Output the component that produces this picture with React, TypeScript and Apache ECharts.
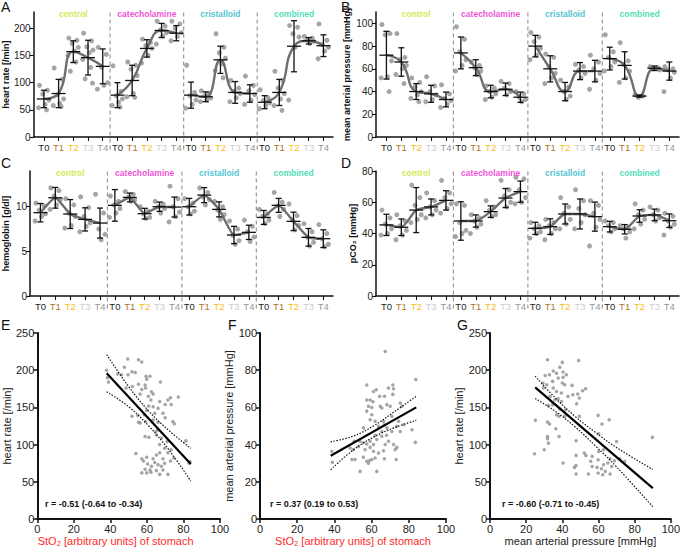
import React, { useEffect, useRef } from 'react';
import * as echarts from 'echarts';

const FONT = 'Liberation Sans, Arial, Helvetica, sans-serif';

const GROUPS = ['control', 'catecholamine', 'cristalloid', 'combined'];
const GROUP_COLORS = ['#c4e41c', '#ec1ccc', '#22b4c8', '#22d4a6'];
const TIMES = ['T0', 'T1', 'T2', 'T3', 'T4'];
const TIME_COLORS = ['#1e1e1e', '#b0752a', '#f4c01a', '#cdcdcd', '#979797'];
const SEPARATORS = [4.5, 9.5, 14.5];
const CAT_IDX = Array.from({ length: 20 }, (_, k) => k);
const JITTER = [-0.3, 0.24, -0.08, 0.34, 0.08, -0.36, 0.18, -0.2, 0.3];

// Panel A: heart rate
const HR_TICKS = [0, 50, 100, 150, 200];
const HR_MEAN = [70, 80, 157, 146, 130, 77, 104, 163, 196, 191, 77, 74, 142, 82, 80, 64, 82, 167, 177, 168];
const HR_ERR = [16, 26, 20, 32, 32, 23, 28, 16, 13, 14, 24, 9, 25, 20, 16, 12, 24, 47, 6, 20];
const HR_DOTS = [
  [95, 86, 79, 68, 60, 54, 50],
  [127, 106, 78, 70, 62, 58, 56],
  [182, 178, 172, 165, 158, 150, 138, 121],
  [191, 177, 166, 160, 155, 143, 128, 107, 99],
  [165, 152, 128, 100, 95, 88],
  [131, 84, 76, 70, 64, 58, 55],
  [138, 132, 125, 113, 80, 74, 73],
  [180, 174, 168, 163, 150, 136],
  [213, 204, 197, 192, 186, 171],
  [213, 208, 200, 192, 185, 177],
  [132, 82, 76, 68, 60, 53],
  [85, 80, 76, 72, 68, 65],
  [190, 165, 155, 145, 135, 122, 109],
  [104, 90, 84, 80, 72, 65],
  [112, 95, 85, 78, 68, 60],
  [87, 72, 67, 63, 58, 52],
  [121, 104, 90, 80, 70, 58, 49],
  [205, 202, 190, 184, 165, 68],
  [185, 182, 178, 176, 172],
  [208, 178, 170, 165, 158, 144],
];

// Panel B: mean arterial pressure
const MAP_TICKS = [0, 20, 40, 60, 80, 100];
const MAP_MEAN = [72, 66, 40, 38, 33, 74, 61, 40, 42, 35, 80, 60, 40, 58, 58, 69, 63, 36, 60.5, 58];
const MAP_ERR = [21, 12.5, 7, 7.5, 6.5, 14, 7, 5.5, 5.5, 4.5, 9.5, 11.5, 8, 7.5, 9.5, 10, 12, 1, 2, 8];
const MAP_DOTS = [
  [99, 91, 90, 67, 53, 52, 40],
  [91, 70, 68, 63, 60, 55, 47],
  [52, 48, 44, 40, 37, 34, 31],
  [53, 45, 40, 37, 33, 31],
  [46, 38, 34, 32, 29, 26],
  [97, 86, 75, 68, 63, 58],
  [66, 63, 61, 58, 55],
  [45, 43, 40, 38, 35, 33],
  [49, 47, 43, 40, 37],
  [40, 38, 35, 33, 31],
  [92, 88, 84, 78, 72, 68],
  [73, 70, 62, 56, 52, 47],
  [50, 44, 40, 36, 33],
  [64, 62, 59, 56, 52],
  [72, 66, 60, 56, 50, 42],
  [90, 75, 70, 66, 62, 58],
  [83, 67, 64, 58, 52, 48],
  [37, 36, 35],
  [62, 61, 60, 59],
  [62, 60, 59, 57, 52, 40],
];

// Panel C: hemoglobin
const HB_TICKS = [0, 5, 10];
const HB_MEAN = [9.33, 11.0, 9.18, 8.58, 8.17, 10.15, 11.04, 9.22, 10.0, 9.96, 10.0, 11.3, 9.7, 6.83, 7.13, 8.8, 10.15, 8.36, 6.57, 6.42];
const HB_ERR = [1.03, 1.16, 1.62, 1.3, 1.68, 1.77, 0.49, 0.6, 0.52, 1.12, 0.93, 0.84, 0.84, 0.97, 0.8, 0.78, 0.78, 1.03, 0.99, 0.99];
const HB_DOTS = [
  [10.4, 10.1, 9.6, 9.2, 8.9, 8.4],
  [12.1, 11.8, 11.2, 10.8, 10.2, 9.7],
  [10.9, 10.2, 9.3, 8.9, 7.9, 7.6],
  [11.1, 9.9, 8.9, 8.2, 7.8, 7.2],
  [11.4, 9.3, 7.5, 6.9, 6.3],
  [11.2, 10.6, 10.2, 9.8, 9.3, 8.8],
  [11.7, 11.4, 11.1, 10.8, 10.6],
  [10.0, 9.5, 9.2, 8.8, 8.7],
  [10.6, 10.3, 10.0, 9.8, 9.3],
  [12.3, 10.9, 10.0, 9.4, 8.9, 8.3],
  [10.9, 10.4, 10.0, 9.5, 9.2],
  [12.1, 11.6, 11.1, 10.8, 10.2],
  [10.6, 10.0, 9.6, 9.1, 8.6],
  [8.4, 7.5, 6.8, 6.2, 5.8],
  [8.5, 7.8, 7.2, 6.6, 6.1],
  [9.7, 9.2, 8.9, 8.5, 8.1],
  [11.6, 10.5, 10.1, 9.7, 8.9],
  [10.3, 9.0, 8.5, 7.9, 7.4],
  [8.1, 7.2, 6.6, 6.0, 5.6],
  [8.0, 7.0, 6.4, 5.8, 5.5],
];

// Panel D: pCO2
const PCO2_TICKS = [0, 20, 40, 60, 80];
const PCO2_MEAN = [45.5, 44, 55, 57, 61.2, 48, 48, 54, 62.7, 66.8, 43.3, 44.4, 52.5, 52.5, 50.8, 44.4, 42.7, 51.2, 51.9, 48.2];
const PCO2_ERR = [6.8, 5.3, 14.4, 5.1, 6.2, 12.3, 3.9, 3.7, 6.1, 6.8, 3.9, 5, 6.4, 9.6, 9.3, 3.4, 3, 4, 3.7, 4.3];
const PCO2_DOTS = [
  [55, 50, 46, 43, 40, 39],
  [52, 48, 45, 42, 39, 36],
  [71, 63, 58, 52, 49, 47],
  [66, 61, 57, 55, 52, 50],
  [74, 66, 63, 59, 56, 53],
  [59, 58, 47, 42, 40, 38],
  [52, 50, 48, 46, 44, 40],
  [61, 57, 55, 52, 51],
  [74, 68, 64, 60, 57],
  [76, 75, 68, 63, 60, 59],
  [47, 45, 43, 41, 40, 37],
  [49, 47, 45, 43, 40, 36],
  [63, 57, 53, 49, 46, 43],
  [68, 61, 56, 52, 47, 43],
  [61, 58, 53, 49, 44, 32],
  [48, 47, 45, 43, 41],
  [45, 44, 43, 41, 37],
  [59, 55, 52, 49, 46, 43],
  [57, 55, 52, 50, 48],
  [53, 51, 48, 46, 44, 39],
];

// Panel E: StO2 vs heart rate
const E_POINTS = [
  [37.9, 200], [38.4, 190], [39, 184], [49.5, 215], [55.4, 214], [57.2, 211], [47.7, 204], [51.8, 198], [49.7, 194], [46.1, 194],
  [53.6, 197], [48.6, 176], [59.5, 192], [61.7, 192], [59.9, 188], [55.4, 181], [59, 180], [67.4, 184], [57.2, 174], [59.3, 176],
  [62.5, 171], [56.3, 168], [60.8, 165], [63.4, 168], [62.2, 160], [72.9, 163], [71.5, 160], [77.2, 164], [67, 158], [70, 154],
  [73.3, 154], [63.4, 151], [66.1, 149], [51.8, 138], [55, 139], [58.6, 140], [59.9, 146], [64.3, 142], [68.8, 142], [56.3, 129],
  [59.3, 131], [63.4, 133], [66.1, 130], [74.2, 131], [75, 128], [66.1, 120], [65.2, 113], [59, 111], [61.1, 110], [67.9, 109],
  [71.1, 104], [81.3, 105], [67, 100], [69.7, 95], [73.3, 93], [71.5, 89], [54, 88], [57.2, 81], [59.9, 83], [63.4, 81],
  [65.2, 86], [67, 89], [68.8, 81], [58.1, 78], [60.4, 74], [64.3, 76], [66.1, 73], [69.7, 75], [72.9, 78], [74.7, 82],
  [62.5, 71], [67.9, 71], [59, 67], [61.7, 66], [65.2, 65], [68.8, 66], [57.2, 62], [59.9, 62], [62.2, 63], [67, 60],
  [71.5, 60], [83.6, 77], [83.1, 75], [55.4, 130], [44, 195], [52, 178], [65, 118], [61, 152], [70, 136],
];
const E_FIT = [[38, 196], [84, 74]];
const E_UPPER = [[38, 221], [50, 178], [61, 145], [72, 119], [84, 95]];
const E_LOWER = [[38, 171], [50, 151], [61, 125], [72, 93], [84, 51]];

// Panel F: StO2 vs mean arterial pressure
const F_POINTS = [
  [67.3, 90], [83.8, 75], [57.4, 72], [61, 68.6], [62.5, 69.5], [69.1, 70.4], [71.4, 72], [71.8, 70], [71.4, 67], [66.9, 66],
  [64.3, 66], [57.4, 64], [59.2, 64], [60.7, 63], [58.3, 60.6], [60.1, 60], [64.6, 60.6], [65.5, 59.7], [68.2, 61.5], [70, 60.6],
  [75.4, 62.4], [76.3, 60.6], [57.4, 58], [60.1, 56], [59.2, 53.4], [66.4, 52.5], [66.8, 50.7], [70.9, 55.2], [74.5, 52.5], [77.2, 50.7],
  [81.7, 48], [55.6, 49], [61.9, 52.5], [63.7, 49.8], [65.5, 47], [68.2, 49], [70.9, 47], [73.6, 49.8], [75.4, 47], [50.6, 41.8],
  [53.8, 41.8], [55.6, 41], [57.4, 40.3], [59.2, 41.8], [61, 40], [62.8, 42.7], [65.5, 44.5], [67.3, 40], [69.1, 41.8], [71.8, 40],
  [73.6, 38.5], [48.5, 38.2], [50.2, 37.3], [52.9, 39], [56.5, 37.3], [59.2, 38.5], [61, 36.4], [63.7, 35.5], [66.4, 36.7], [72.7, 37.3],
  [49.4, 32], [51.1, 32], [55.6, 33.2], [57.4, 31], [58.9, 31.4], [60.1, 32], [61.9, 32.8], [66.9, 32.4], [73.2, 32], [58.3, 30],
  [53.8, 25.6], [62.8, 25.6], [38.6, 36.4], [38.9, 30.5], [83.5, 41.2], [62, 45], [68, 45],
];
const F_FIT = [[38, 34], [84, 60]];
const F_UPPER = [[38, 41.5], [50, 44.5], [61, 50], [72, 57.5], [84, 66]];
const F_LOWER = [[38, 26.5], [50, 37], [61, 44], [72, 49], [84, 53]];

// Panel G: mean arterial pressure vs heart rate
const G_POINTS = [
  [31.8, 214], [40, 210.5], [49, 213], [38.6, 204], [35, 199], [30.5, 193], [32.9, 194], [36.8, 196], [40.4, 197.5], [42.2, 194],
  [37.7, 189.5], [40.4, 190.4], [29.3, 182.7], [31.4, 180.5], [34.6, 185], [40, 182.7], [41.3, 180.5], [45.4, 179.6], [51.2, 172.4], [52.9, 175],
  [29.6, 176], [35, 176], [36.8, 171.5], [39.5, 169.3], [43.1, 164.8], [45.8, 167], [48.5, 168], [49.4, 162.6], [33.2, 164.8], [35.9, 160.3],
  [37.7, 161.7], [39.5, 158], [47.9, 155], [32.3, 152.7], [34.6, 153.6], [38.6, 148], [41.8, 147], [36.8, 140], [38.2, 138], [41.3, 138],
  [49.4, 138], [59.8, 139.3], [65.9, 133.5], [25.1, 132.6], [31.8, 130.3], [32.9, 127.6], [61.9, 127.6], [36.4, 121.4], [31.8, 111], [31.8, 108],
  [38.2, 111], [32.3, 102], [30, 93], [24.6, 87.8], [47.6, 105.2], [60.1, 114.6], [70, 104.3], [89.8, 109.7], [52.1, 88.7], [53, 85.5],
  [47.6, 85.5], [56.5, 84.2], [60.1, 90.9], [62.8, 93], [66.4, 81], [68.8, 78.4], [71.8, 81], [74.5, 77.5], [40.4, 75.2], [47.6, 72],
  [55.7, 77.5], [59.8, 79.7], [62.8, 73], [65.2, 75.2], [56.5, 70.7], [59.2, 69.4], [61.6, 67.6], [67.3, 70.7], [63.7, 64], [46.7, 69.4],
  [47.6, 60.4], [54.4, 60.4], [59.8, 61.8], [66.4, 60.4], [62.3, 59.5],
];
const G_FIT = [[25, 177], [90, 41.5]];
const G_UPPER = [[25, 192], [36, 163], [47, 138], [58, 117], [70, 96], [90, 66.5]];
const G_LOWER = [[25, 162], [36, 145], [47, 124], [58, 99], [70, 70], [90, 16.5]];

const TIME_PANELS = [
  { left: 30, top: 12, max: 230, ticks: HR_TICKS, name: 'heart rate [/min]', nameGap: 20, mean: HR_MEAN, err: HR_ERR, dots: HR_DOTS, smooth: 0.5 },
  { left: 376, top: 12, max: 110, ticks: MAP_TICKS, name: 'mean arterial pressure [mmHg]', nameGap: 25, mean: MAP_MEAN, err: MAP_ERR, dots: MAP_DOTS, smooth: 0.5 },
  { left: 30, top: 171, max: 14, ticks: HB_TICKS, name: 'hemoglobin [g/dl]', nameGap: 20, mean: HB_MEAN, err: HB_ERR, dots: HB_DOTS, smooth: 0.15 },
  { left: 376, top: 171, max: 80, ticks: PCO2_TICKS, name: 'pCO₂ [mmHg]', nameGap: 18, mean: PCO2_MEAN, err: PCO2_ERR, dots: PCO2_DOTS, smooth: 0.2 },
];

const SCATTER_PANELS = [
  { left: 33, width: 187, yMax: 250, yInt: 50, yName: 'heart rate [/min]', xName: 'StO₂ [arbitrary units] of stomach', xColor: '#ff2a2a', xPad: [0, 26, 0, 0], points: E_POINTS, fit: E_FIT, upper: E_UPPER, lower: E_LOWER, r: 'r = -0.51 (-0.64 to -0.34)', rx: 45 },
  { left: 260, width: 186, yMax: 100, yInt: 20, yName: 'mean arterial pressure [mmHg]', xName: 'StO₂ [arbitrary units] of stomach', xColor: '#ff2a2a', xPad: [0, 0, 0, 0], points: F_POINTS, fit: F_FIT, upper: F_UPPER, lower: F_LOWER, r: 'r = 0.37 (0.19 to 0.53)', rx: 270 },
  { left: 490, width: 186, yMax: 250, yInt: 50, yName: 'heart rate [/min]', xName: 'mean arterial pressure [mmHg]', xColor: '#222222', xPad: [0, 0, 0, 0], points: G_POINTS, fit: G_FIT, upper: G_UPPER, lower: G_LOWER, r: 'r = -0.60 (-0.71 to -0.45)', rx: 502 },
];

const LETTERS = [
  ['A', 1, 0], ['B', 341, 0], ['C', 1, 156], ['D', 341, 156], ['E', 1, 318], ['F', 228, 318], ['G', 457, 318],
];

function renderErr(params: any, api: any) {
  const x = api.value(0);
  const m = api.value(1);
  const e = api.value(2);
  const pm = api.coord([x, m]);
  const ph = api.coord([x, m + e]);
  const pl = api.coord([x, m - e]);
  const st = { stroke: '#111111', lineWidth: 1.3 };
  return {
    type: 'group',
    children: [
      { type: 'line', shape: { x1: pm[0], y1: ph[1], x2: pm[0], y2: pl[1] }, style: st },
      { type: 'line', shape: { x1: pm[0] - 3, y1: ph[1], x2: pm[0] + 3, y2: ph[1] }, style: st },
      { type: 'line', shape: { x1: pm[0] - 3, y1: pl[1], x2: pm[0] + 3, y2: pl[1] }, style: st },
      { type: 'line', shape: { x1: pm[0] - 7, y1: pm[1], x2: pm[0] + 7, y2: pm[1] }, style: st },
    ],
  };
}

function buildOption() {
  const grid: any[] = [];
  const xAxis: any[] = [];
  const yAxis: any[] = [];
  const series: any[] = [];
  const graphic: any[] = [];

  const rich: any = {};
  TIMES.forEach((t, i) => {
    rich['t' + i] = { color: TIME_COLORS[i], fontSize: 9.5, fontFamily: FONT };
  });

  TIME_PANELS.forEach((p, i) => {
    grid.push({ left: p.left, top: p.top, width: 303, height: 125 });
    xAxis.push({
      type: 'value', gridIndex: i, min: -0.7, max: 19.65,
      axisLine: { show: true, onZero: false, lineStyle: { color: '#111', width: 1.5 } },
      axisTick: { show: true, customValues: CAT_IDX, length: 4, lineStyle: { color: '#111', width: 1.1 } },
      axisLabel: {
        customValues: CAT_IDX, margin: 5,
        formatter: (v: number) => { const k = Math.round(v) % 5; return `{t${k}|${TIMES[k]}}`; },
        rich,
      },
      splitLine: { show: false },
    });
    yAxis.push({
      type: 'value', gridIndex: i, min: 0, max: p.max,
      axisLine: { show: true, onZero: false, lineStyle: { color: '#111', width: 1.5 } },
      axisTick: { show: true, customValues: p.ticks, length: 4, lineStyle: { color: '#111', width: 1.1 } },
      axisLabel: { customValues: p.ticks, fontSize: 10, color: '#222', margin: 3, fontFamily: FONT },
      splitLine: { show: false },
      name: p.name, nameLocation: 'middle', nameGap: p.nameGap,
      nameTextStyle: { fontWeight: 'bold', fontSize: 9, color: '#111', fontFamily: FONT },
    });
    SEPARATORS.forEach((s) => {
      series.push({
        type: 'line', xAxisIndex: i, yAxisIndex: i, clip: false, silent: true, symbol: 'none', z: 1,
        data: [[s, -p.max * 0.1], [s, p.max]],
        lineStyle: { color: '#9a9a9a', width: 1.2, type: [4, 3] },
      });
    });
    const dots: number[][] = [];
    p.dots.forEach((vals, k) => vals.forEach((v, j) => dots.push([k + JITTER[j % JITTER.length], v])));
    series.push({
      type: 'scatter', xAxisIndex: i, yAxisIndex: i, data: dots, symbolSize: 5, silent: true, z: 2,
      itemStyle: { color: '#8e8e8e' },
    });
    GROUPS.forEach((g, gi) => {
      const d: number[][] = [];
      for (let t = 0; t < 5; t++) d.push([gi * 5 + t, p.mean[gi * 5 + t]]);
      series.push({
        type: 'line', xAxisIndex: i, yAxisIndex: i, data: d, smooth: p.smooth, symbol: 'none', silent: true, z: 3,
        lineStyle: { color: '#6e6e6e', width: 2.4 },
      });
    });
    series.push({
      type: 'custom', xAxisIndex: i, yAxisIndex: i, renderItem: renderErr, z: 4, silent: true,
      data: p.mean.map((m, k) => [k, m, p.err[k]]), encode: { x: 0, y: 1 },
    });
    series.push({
      type: 'scatter', xAxisIndex: i, yAxisIndex: i, symbolSize: 1, clip: false, silent: true, z: 5,
      itemStyle: { color: 'rgba(0,0,0,0)' },
      data: GROUPS.map((g, gi) => ({ value: [gi * 5 + 2, p.max], name: g, label: { color: GROUP_COLORS[gi] } })),
      label: { show: true, position: 'inside', formatter: '{b}', fontWeight: 'bold', fontSize: 8.5, fontFamily: FONT, offset: [0, 2] },
    });
  });

  SCATTER_PANELS.forEach((p, j) => {
    const i = TIME_PANELS.length + j;
    grid.push({ left: p.left, top: 333, width: p.width, height: 186 });
    xAxis.push({
      type: 'value', gridIndex: i, min: 0, max: 100, interval: 20,
      axisLine: { show: true, onZero: false, lineStyle: { color: '#111', width: 2 } },
      axisTick: { show: true, length: 4, lineStyle: { color: '#111', width: 1.5 } },
      axisLabel: { fontSize: 11, color: '#222', margin: 4, fontFamily: FONT },
      splitLine: { show: false },
      name: p.xName, nameLocation: 'middle', nameGap: 16,
      nameTextStyle: { fontSize: 11, color: p.xColor, fontFamily: FONT, padding: p.xPad },
    });
    yAxis.push({
      type: 'value', gridIndex: i, min: 0, max: p.yMax, interval: p.yInt,
      axisLine: { show: true, onZero: false, lineStyle: { color: '#111', width: 2 } },
      axisTick: { show: true, length: 4, lineStyle: { color: '#111', width: 1.5 } },
      axisLabel: { fontSize: 11, color: '#222', margin: 3, fontFamily: FONT },
      splitLine: { show: false },
      name: p.yName, nameLocation: 'middle', nameGap: 21,
      nameTextStyle: { fontSize: 11, color: '#222', fontFamily: FONT },
    });
    series.push({
      type: 'scatter', xAxisIndex: i, yAxisIndex: i, data: p.points, symbolSize: 3.5, silent: true, z: 2,
      itemStyle: { color: '#8e8e8e' },
    });
    series.push({
      type: 'line', xAxisIndex: i, yAxisIndex: i, data: p.fit, symbol: 'none', silent: true, z: 4,
      lineStyle: { color: '#000', width: 2.2 },
    });
    [p.upper, p.lower].forEach((band) => {
      series.push({
        type: 'line', xAxisIndex: i, yAxisIndex: i, data: band, symbol: 'none', smooth: 0.4, silent: true, z: 3,
        lineStyle: { color: '#111', width: 1.2, type: [1.5, 1.5] },
      });
    });
    graphic.push({
      type: 'text', left: p.rx, top: 499,
      style: { text: p.r, fill: '#111', fontSize: 9, fontWeight: 'bold', fontFamily: FONT },
    });
  });

  LETTERS.forEach(([t, x, y]) => {
    graphic.push({
      type: 'text', left: x as number, top: y as number, z: 100,
      style: { text: t as string, fill: '#111', fontSize: 14, fontFamily: FONT },
    });
  });

  return {
    animation: false,
    backgroundColor: '#ffffff',
    textStyle: { fontFamily: FONT },
    grid, xAxis, yAxis, series, graphic,
  };
}

export default function App() {
  const ref = useRef<HTMLDivElement>(null);
  useEffect(() => {
    const chart = echarts.init(ref.current as HTMLDivElement, null, { renderer: 'svg' });
    chart.setOption(buildOption() as any);
    return () => chart.dispose();
  }, []);
  return (
    <div
      ref={ref}
      style={{ position: 'fixed', left: 0, top: 0, width: 683, height: 547, background: '#fff' }}
    />
  );
}
